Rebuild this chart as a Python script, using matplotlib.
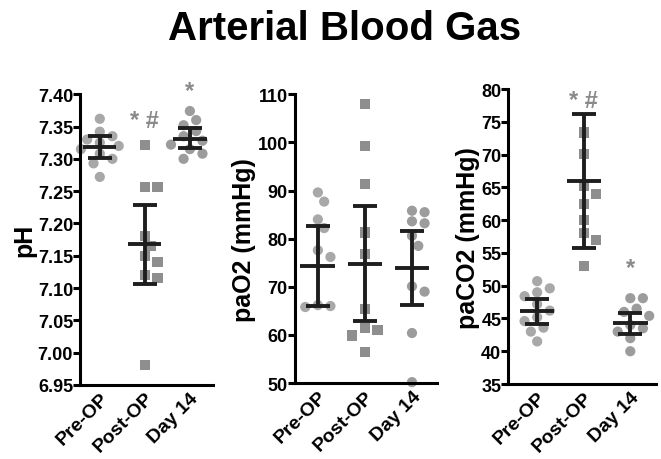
import numpy as np
import matplotlib.pyplot as plt

plt.rcParams['font.family'] = ['Liberation Sans', 'DejaVu Sans']
plt.rcParams['font.weight'] = 'bold'

groups = ["Pre-OP", "Post-OP", "Day 14"]

# pH
ph_pre = [7.362, 7.342, 7.335, 7.330, 7.325, 7.320, 7.315, 7.308, 7.300, 7.293, 7.272]
ph_post = [7.322, 7.256, 7.256, 7.180, 7.165, 7.150, 7.140, 7.120, 7.115, 6.981]
ph_d14 = [7.374, 7.360, 7.352, 7.343, 7.335, 7.328, 7.322, 7.315, 7.308, 7.300]
ph_mean = [7.318, 7.168, 7.331]
ph_lo = [7.301, 7.107, 7.316]
ph_hi = [7.335, 7.228, 7.347]

# paO2
po2_pre = [89.6, 87.7, 84.0, 82.2, 77.6, 76.2, 66.2, 65.8, 66.0]
po2_post = [107.9, 99.3, 91.3, 81.3, 76.8, 65.4, 61.4, 61.0, 59.9, 56.5]
po2_d14 = [85.5, 85.8, 83.2, 83.6, 80.6, 78.5, 70.1, 69.0, 60.4, 50.2]
po2_mean = [74.3, 74.7, 73.9]
po2_lo = [66.1, 62.8, 66.2]
po2_hi = [82.6, 86.8, 81.5]

# paCO2
pco2_pre = [50.7, 49.6, 49.0, 48.4, 47.2, 46.2, 45.2, 44.6, 43.6, 43.0, 41.5]
pco2_post = [73.4, 70.1, 65.2, 64.0, 62.5, 60.0, 58.0, 57.0, 53.0]
pco2_d14 = [48.1, 48.1, 46.5, 46.0, 45.4, 44.0, 43.5, 43.0, 42.0, 40.0]
pco2_mean = [46.1, 66.0, 44.3]
pco2_lo = [44.1, 55.8, 42.7]
pco2_hi = [48.0, 76.2, 45.9]

panels = [
    dict(data=[ph_pre, ph_post, ph_d14], mean=ph_mean, lo=ph_lo, hi=ph_hi,
         ylabel="pH", ylim=(6.95, 7.40), ticks=np.arange(6.95, 7.401, 0.05), fmt="{:.2f}",
         rect=[0.121, 0.161, 0.201, 0.632], xlim=(-0.44, 2.51),
         marks={1: ("* #", 7.36), 2: ("*", 7.405)}),
    dict(data=[po2_pre, po2_post, po2_d14], mean=po2_mean, lo=po2_lo, hi=po2_hi,
         ylabel="paO2 (mmHg)", ylim=(50, 110), ticks=np.arange(50, 111, 10), fmt="{:.0f}",
         rect=[0.446, 0.165, 0.215, 0.628], xlim=(-0.49, 2.53), marks={}),
    dict(data=[pco2_pre, pco2_post, pco2_d14], mean=pco2_mean, lo=pco2_lo, hi=pco2_hi,
         ylabel="paCO2 (mmHg)", ylim=(35, 80), ticks=np.arange(35, 81, 5), fmt="{:.0f}",
         rect=[0.769, 0.163, 0.224, 0.641], xlim=(-0.62, 2.56),
         marks={1: ("* #", 78.2), 2: ("*", 52.8)}),
]

point_colors = ["#a8a8a8", "#8e8e8e", "#9c9c9c"]
point_markers = ["o", "s", "o"]


def swarm_offsets(ax, vals, diam):
    # simple beeswarm in pixel space
    ypix = ax.transData.transform(np.column_stack([np.zeros(len(vals)), vals]))[:, 1]
    placed = []
    offs = np.zeros(len(vals))
    for i in np.argsort(ypix)[::-1]:
        k = 0
        while True:
            cands = [0.0] if k == 0 else [k * diam * 0.6, -k * diam * 0.6]
            ok = None
            for c in cands:
                if all((c - px) ** 2 + (ypix[i] - py) ** 2 >= diam ** 2 for px, py in placed):
                    ok = c
                    break
            if ok is not None:
                offs[i] = ok
                placed.append((ok, ypix[i]))
                break
            k += 1
    x0 = ax.transData.transform([[0, 0], [1, 0]])
    return offs / (x0[1, 0] - x0[0, 0])


fig = plt.figure(figsize=(6.61, 4.60), dpi=100)
fig.text(0.522, 0.913, "Arterial Blood Gas", ha="center", va="baseline",
         fontsize=29, fontweight="bold")

for p in panels:
    ax = fig.add_axes(p["rect"])
    ax.set_xlim(*p["xlim"])
    ax.set_ylim(*p["ylim"])
    for g in range(3):
        vals = np.array(p["data"][g])
        dx = swarm_offsets(ax, vals, 10.5)
        ax.scatter(g + dx, vals, s=54, marker=point_markers[g], color=point_colors[g],
                   edgecolors="none", zorder=2, clip_on=False)
    x = np.arange(3)
    mean = np.array(p["mean"])
    ax.errorbar(x, mean, yerr=[mean - np.array(p["lo"]), np.array(p["hi"]) - mean],
                fmt="none", ecolor="#1e1e1e", elinewidth=2.8, capsize=8.5, capthick=2.8, zorder=3)
    ax.hlines(mean, x - 0.37, x + 0.37, color="#1e1e1e", linewidth=2.8, zorder=3)
    for g, (txt, yv) in p["marks"].items():
        ax.text(g, yv, txt, ha="center", va="center", fontsize=17, color="#8a8a8a",
                fontweight="bold")

    ax.set_xticks(x)
    ax.set_xticklabels(groups, rotation=45, ha="right", rotation_mode="anchor",
                       fontsize=14, fontweight="bold")
    ax.set_yticks(p["ticks"])
    ax.set_yticklabels([p["fmt"].format(t) for t in p["ticks"]], fontsize=13,
                       fontweight="bold")
    ax.set_ylabel(p["ylabel"], fontsize=18, fontweight="bold", labelpad=1)
    ax.spines["top"].set_visible(False)
    ax.spines["right"].set_visible(False)
    ax.spines["left"].set_linewidth(2.2)
    ax.spines["bottom"].set_linewidth(2.2)
    ax.tick_params(axis="y", direction="out", length=5, width=2.2, pad=0)
    ax.tick_params(axis="x", length=0, pad=3)

fig.savefig("out.png", dpi=100)
